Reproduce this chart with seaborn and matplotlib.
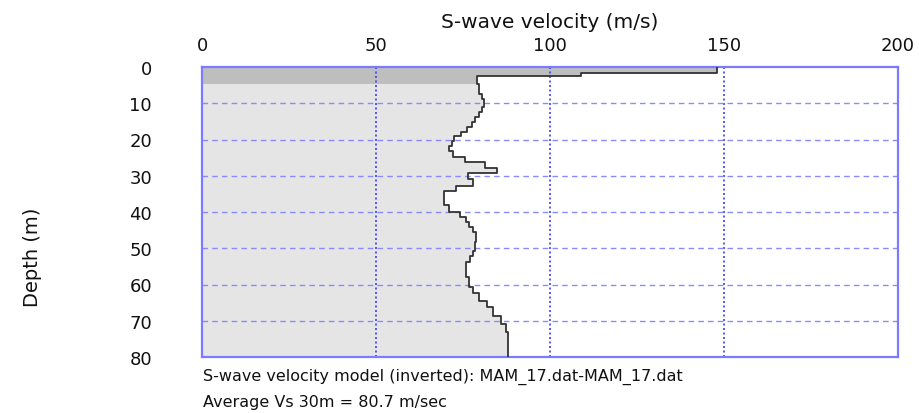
import matplotlib
matplotlib.use("Agg")
import matplotlib.pyplot as plt
import numpy as np
import seaborn as sns

# layer model: top depth of each layer (m) and its Vs (m/s)
layer_top = [0.0, 1.7, 2.5, 4.6, 7.4, 8.8, 11.0, 12.4, 13.8, 15.2, 16.6, 17.9,
             19.0, 20.3, 21.7, 23.1, 24.7, 26.2, 27.9, 29.3, 30.9, 32.7, 34.3,
             38.0, 40.1, 41.5, 42.8, 44.2, 45.6, 48.3, 50.7, 52.1, 53.8, 58.0,
             60.8, 62.4, 64.5, 66.3, 68.6, 70.9, 73.2]
layer_vs = [148, 109, 79.0, 79.5, 80.4, 81.0, 80.4, 79.6, 78.4, 77.5, 76.2, 74.3,
            72.4, 71.7, 71.0, 72.2, 75.6, 81.3, 84.9, 76.4, 77.8, 73.0, 69.4,
            71.1, 74.1, 76.0, 76.8, 78.0, 78.7, 78.4, 77.8, 77.0, 76.0, 76.8,
            77.8, 79.7, 81.8, 83.7, 85.8, 87.3, 87.8]
max_depth = 80
shallow_depth = 4.6

x_ticks = [0, 50, 100, 150, 200]
y_ticks = [0, 10, 20, 30, 40, 50, 60, 70, 80]

model_text = "S-wave velocity model (inverted): MAM_17.dat-MAM_17.dat"
avg_text = "Average Vs 30m = 80.7 m/sec"

# step outline of the profile
bottoms = layer_top[1:] + [max_depth]
depth_pts = []
vs_pts = []
for top, bot, v in zip(layer_top, bottoms, layer_vs):
    depth_pts += [top, bot]
    vs_pts += [v, v]
depth_pts = np.array(depth_pts)
vs_pts = np.array(vs_pts)

sns.set_style("white")
plt.rcParams['font.family'] = ['DejaVu Sans']

fig = plt.figure(figsize=(9.19, 4.14), dpi=100)
ax = fig.add_axes([202 / 919, 1 - 358 / 414, 696 / 919, 290 / 414])

ax.fill_betweenx(depth_pts, 0, vs_pts, color='#e5e5e5', lw=0, zorder=1)
shallow = depth_pts <= shallow_depth
ax.fill_betweenx(depth_pts[shallow], 0, vs_pts[shallow], color='#bebebe', lw=0, zorder=1)

for v in x_ticks[1:-1]:
    ax.axvline(v, color='#3c3cff', lw=1.2, ls=(0, (1.2, 1.5)), zorder=2)
for d in y_ticks[1:-1]:
    ax.axhline(d, color='#8a8aff', lw=1.0, ls=(0, (4, 3)), zorder=2)

sns.lineplot(x=vs_pts, y=depth_pts, sort=False, estimator=None, orient='y',
             color='#333333', lw=1.3, ax=ax, zorder=3)

ax.set_xlim(0, 200)
ax.set_ylim(max_depth, 0)
ax.set_xticks(x_ticks)
ax.set_yticks(y_ticks)
ax.xaxis.tick_top()
ax.xaxis.set_label_position('top')
ax.tick_params(axis='x', length=0, pad=9, labelsize=13, colors='#111111')
ax.tick_params(axis='y', length=0, pad=36, labelsize=13, colors='#111111')
ax.set_xlabel("S-wave velocity (m/s)", fontsize=14.5, labelpad=7, color='#111111')
ax.set_ylabel("")
for s in ax.spines.values():
    s.set_color('#7b7bff')
    s.set_linewidth(1.6)
    s.set_visible(True)

fig.text(32 / 919, 1 - 257 / 414, "Depth (m)", rotation=90, ha='center', va='center',
         fontsize=14, color='#111111', family=['Liberation Sans Narrow', 'DejaVu Sans'])
fig.text(203 / 919, 1 - 377 / 414, model_text, ha='left', va='center', fontsize=11.5,
         color='#111111')
fig.text(203 / 919, 1 - 403 / 414, avg_text, ha='left', va='center', fontsize=11.5,
         color='#111111')

fig.savefig('out.png', dpi=100)
